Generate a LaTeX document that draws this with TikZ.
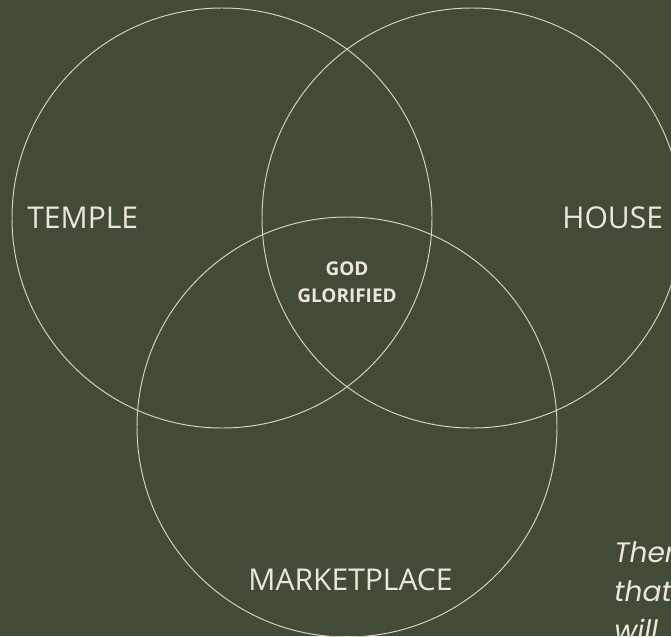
\documentclass[tikz,border=0pt]{standalone}
\usepackage{fontspec}
\setmainfont{Open Sans}
\newfontfamily\quotefont{Poppins}
\definecolor{olivebg}{RGB}{66,74,56}
\definecolor{creamline}{RGB}{214,210,196}
\definecolor{creamtext}{RGB}{236,231,220}
\usetikzlibrary{positioning}

\begin{document}
\begin{tikzpicture}[x=0.02cm, y=-0.02cm,
    area/.style={draw=creamline, line width=0.55pt},
    arealabel/.style={text=creamtext, font=\fontsize{17.1}{19}\selectfont, inner sep=0pt},
    centrelabel/.style={text=creamtext, font=\bfseries\fontsize{10.8}{15.5}\selectfont, align=center, inner sep=0pt},
    quote/.style={text=creamtext, font=\quotefont\itshape\fontsize{16}{22.2}\selectfont, align=left, inner sep=0pt, anchor=north west}]

  % background, fixes the page size
  \fill [olivebg] (0,0) rectangle (671,636);
  \useasboundingbox (0,0) rectangle (671,636);

  % the three circles
  \draw [area] (222,218) circle (210);
  \draw [area] (472,218) circle (210);
  \draw [area] (347,427) circle (210);

  \node [arealabel, anchor=west] (temple) at (27,218) {TEMPLE};
  \node [arealabel, anchor=west] (house) at (562,218) {HOUSE};
  \node [arealabel] (market) at (350.5,579.5) {MARKETPLACE};

  \node [centrelabel] (god) at (347,282) {GOD\\GLORIFIED};

  % quotation, cut by the page edge
  \node [quote] (verse) at (614,541) {There\\that\\will};
\end{tikzpicture}
\end{document}
